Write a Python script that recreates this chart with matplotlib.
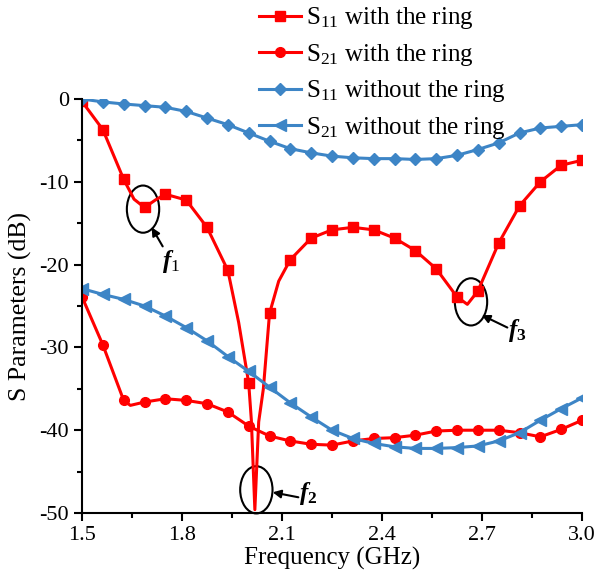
import numpy as np
import matplotlib.pyplot as plt
from matplotlib.patches import Ellipse
from matplotlib.ticker import MultipleLocator

plt.rcParams['font.family'] = ['Liberation Serif', 'DejaVu Serif']
plt.rcParams['mathtext.fontset'] = 'custom'
plt.rcParams['mathtext.rm'] = 'Liberation Serif'
plt.rcParams['mathtext.it'] = 'Liberation Serif:italic:bold'
plt.rcParams['mathtext.bf'] = 'Liberation Serif:bold'
plt.rcParams['axes.unicode_minus'] = False

# S11 with the ring (red squares), extra points where the curve bends
f_s11_ring = [1.5, 1.5625, 1.625, 1.656, 1.6875, 1.72, 1.75, 1.8125, 1.875, 1.9375,
              1.97, 2.0, 2.008, 2.0185, 2.03, 2.044, 2.0625, 2.09, 2.125, 2.1875,
              2.25, 2.3125, 2.375, 2.4375, 2.5, 2.5625, 2.625, 2.656, 2.6875, 2.75,
              2.8125, 2.875, 2.9375, 3.0]
s11_ring = [-0.3, -3.7, -9.7, -12.1, -13.1, -12.2, -11.5, -12.2, -15.5, -20.7,
            -27.0, -34.3, -38.8, -49.6, -39.0, -35.0, -25.9, -22.0, -19.4, -16.8,
            -15.8, -15.5, -15.8, -16.8, -18.3, -20.5, -23.9, -24.8, -23.2, -17.4,
            -12.9, -10.0, -8.0, -7.4]

# S21 with the ring (red circles)
f_s21_ring = [1.5, 1.5625, 1.625, 1.645, 1.6875, 1.75, 1.8125, 1.875, 1.9375, 2.0,
              2.0625, 2.125, 2.1875, 2.25, 2.3125, 2.375, 2.4375, 2.5, 2.5625, 2.625,
              2.6875, 2.75, 2.8125, 2.875, 2.9375, 3.0]
s21_ring = [-23.9, -29.7, -36.4, -37.0, -36.6, -36.2, -36.4, -36.8, -37.8, -39.5,
            -40.7, -41.3, -41.7, -41.8, -41.3, -41.0, -40.9, -40.6, -40.1, -40.0,
            -40.0, -40.0, -40.3, -40.8, -39.9, -38.8]

# curves without the ring, sampled on the marker grid
f_grid = [1.5, 1.5625, 1.625, 1.6875, 1.75, 1.8125, 1.875, 1.9375, 2.0, 2.0625,
          2.125, 2.1875, 2.25, 2.3125, 2.375, 2.4375, 2.5, 2.5625, 2.625, 2.6875,
          2.75, 2.8125, 2.875, 2.9375, 3.0]
s11_plain = [0.0, -0.35, -0.6, -0.8, -1.0, -1.5, -2.3, -3.1, -4.1, -5.1,
             -6.0, -6.5, -6.9, -7.1, -7.2, -7.2, -7.3, -7.2, -6.8, -6.1,
             -5.3, -4.1, -3.5, -3.3, -3.1]
s21_plain = [-22.9, -23.6, -24.2, -25.0, -26.2, -27.6, -29.2, -31.1, -32.9, -34.8,
             -36.7, -38.4, -40.0, -41.0, -41.6, -42.0, -42.2, -42.2, -42.1, -41.9,
             -41.3, -40.3, -38.8, -37.4, -36.1]

red = '#FF0000'
blue = '#3D85C6'


def on_grid(freqs):
    k = (np.array(freqs) - 1.5) / 0.0625
    return [i for i, v in enumerate(k) if abs(v - round(v)) < 1e-6]


fig = plt.figure(figsize=(5.97, 5.77), dpi=100)
ax = fig.add_axes([0.1374, 0.1109, 0.8375, 0.7175])

l1, = ax.plot(f_s11_ring, s11_ring, color=red, lw=2.2, marker='s', ms=6.5,
              markevery=on_grid(f_s11_ring), label='S$_{11}$ with the ring')
l2, = ax.plot(f_s21_ring, s21_ring, color=red, lw=2.2, marker='o', ms=7,
              markevery=on_grid(f_s21_ring), label='S$_{21}$ with the ring')
l3, = ax.plot(f_grid, s11_plain, color=blue, lw=2.2, marker='D', ms=6,
              label='S$_{11}$ without the ring')
l4, = ax.plot(f_grid, s21_plain, color=blue, lw=2.2, marker='<', ms=8,
              label='S$_{21}$ without the ring')

ax.set_xlim(1.5, 3.0)
ax.set_ylim(-50, 0)
ax.xaxis.set_major_locator(MultipleLocator(0.3))
ax.xaxis.set_minor_locator(MultipleLocator(0.15))
ax.yaxis.set_major_locator(MultipleLocator(10))
ax.yaxis.set_minor_locator(MultipleLocator(5))
ax.xaxis.set_major_formatter(lambda v, p: f'{v:.1f}')
ax.spines['top'].set_visible(False)
ax.spines['right'].set_visible(False)
for s in ('left', 'bottom'):
    ax.spines[s].set_linewidth(1.5)
ax.tick_params(which='major', direction='out', length=6, width=1.5, labelsize=16)
ax.tick_params(which='minor', direction='out', length=3.5, width=1.5)
ax.set_xlabel('Frequency (GHz)', fontsize=18, labelpad=1)
ax.set_ylabel('S Parameters (dB)', fontsize=18.5, labelpad=5)

leg = fig.legend(handles=[l1, l2, l3, l4], loc='upper left',
                 bbox_to_anchor=(0.417, 1.008), frameon=False, fontsize=18,
                 handlelength=1.7, handletextpad=0.2, labelspacing=0.42,
                 borderaxespad=0)

# annotation ellipses, arrows and labels
marks = [((1.683, -13.3), r'$f_{\mathit{1}}$', (1.709, -15.5), (1.742, -17.8),
          (1.739, -19.6)),
         ((2.023, -47.2), r'$f_{\mathbf{2}}$', (2.072, -47.5), (2.149, -48.1),
          (2.151, -47.7)),
         ((2.667, -24.5), r'$f_{\mathbf{3}}$', (2.699, -26.1), (2.776, -27.6),
          (2.778, -28.0))]
for centre, txt, head, tail, pos in marks:
    ax.add_patch(Ellipse(centre, 0.097, 5.7, fill=False, ec='black', lw=1.5,
                         clip_on=False))
    ax.annotate('', xy=head, xytext=tail,
                arrowprops=dict(arrowstyle='-|>', color='black', lw=1.5,
                                mutation_scale=12, shrinkA=0, shrinkB=0))
    ax.text(pos[0], pos[1], txt, fontsize=18, ha='left', va='center')

fig.savefig('out.png', dpi=100)
